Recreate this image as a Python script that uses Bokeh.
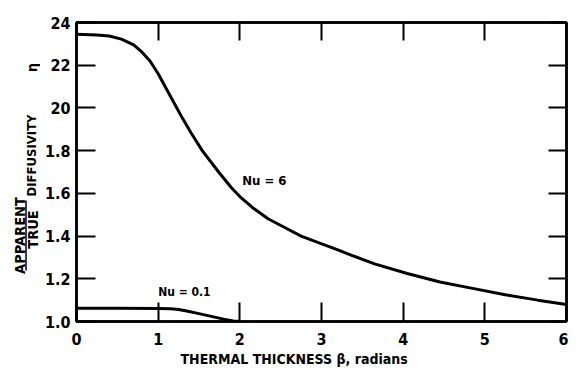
import math
from bokeh.plotting import figure
from bokeh.models import (Range1d, FixedTicker, LinearAxis, Label, Title,
                          CustomJSTickFormatter)
from bokeh.layouts import row
from bokeh.embed import file_html
from bokeh.resources import INLINE

# ---- data ----
nu6_x = [0.0, 0.25, 0.4, 0.55, 0.7, 0.8, 0.9, 1.0, 1.1, 1.2, 1.3, 1.4, 1.54, 1.74, 1.9,
         2.0, 2.15, 2.35, 2.55, 2.75, 2.97, 3.2, 3.37, 3.65, 4.05, 4.45, 4.85, 5.25,
         5.65, 6.0]
nu6_y = [2.345, 2.342, 2.337, 2.322, 2.295, 2.262, 2.22, 2.16, 2.09, 2.02, 1.95, 1.885,
         1.80, 1.70, 1.625, 1.585, 1.535, 1.48, 1.44, 1.40, 1.368, 1.335, 1.31, 1.27,
         1.225, 1.185, 1.155, 1.125, 1.10, 1.08]
nu01_x = [0.0, 0.5, 1.0, 1.15, 1.25, 1.35, 1.5, 1.65, 1.8, 1.92, 2.0]
nu01_y = [1.062, 1.062, 1.061, 1.060, 1.056, 1.049, 1.037, 1.024, 1.011, 1.002, 1.0]

x_ticks = [0, 1, 2, 3, 4, 5, 6]
y_ticks = [1.0, 1.2, 1.4, 1.6, 1.8, 2.0, 2.2, 2.4]
y_tick_labels = ["1.0", "1.2", "1.4", "1.6", "1.8", "20", "22", "24"]

curve_labels = ["Nu = 6", "Nu = 0.1"]
x_title = "THERMAL THICKNESS β, radians"
y_title_parts = ["APPARENT", "TRUE", "DIFFUSIVITY", "η"]

FONT = "DejaVu Sans Condensed"
H = 372
TOP, BOTTOM = 22, 51

# ---- main chart ----
p = figure(width=528, height=H, output_backend="svg", toolbar_location=None,
           x_range=Range1d(0, 6), y_range=Range1d(1.0, 2.4),
           min_border_left=36, min_border_right=2, min_border_top=TOP,
           min_border_bottom=BOTTOM)
p.grid.visible = False
p.outline_line_color = "black"
p.outline_line_width = 2.5
p.background_fill_color = "white"
p.border_fill_color = "white"

xa = p.xaxis[0]
xa.ticker = FixedTicker(ticks=x_ticks)
ya = p.yaxis[0]
ya.ticker = FixedTicker(ticks=y_ticks)
ya.major_label_overrides = {t: l for t, l in zip(y_ticks, y_tick_labels)}

for ax in (xa, ya):
    ax.major_tick_in = 19
    ax.major_tick_out = 0
    ax.minor_tick_line_color = None
    ax.major_tick_line_width = 2
    ax.major_tick_line_color = "black"
    ax.axis_line_width = 2.5
    ax.axis_line_color = "black"
    ax.major_label_text_font = FONT
    ax.major_label_text_font_style = "bold"
    ax.major_label_text_font_size = "16px"
    ax.major_label_text_color = "black"

xa.major_label_standoff = 11
ya.major_label_standoff = 6

for loc, tk in (("above", x_ticks), ("right", y_ticks)):
    ax = LinearAxis(ticker=FixedTicker(ticks=tk),
                    formatter=CustomJSTickFormatter(code="return ''"))
    ax.major_tick_in = 18
    ax.major_tick_out = 0
    ax.minor_tick_line_color = None
    ax.major_tick_line_width = 2
    ax.major_tick_line_color = "black"
    ax.axis_line_width = 2.5
    ax.major_label_standoff = 0
    p.add_layout(ax, loc)

p.add_layout(Title(text=x_title, align="left", offset=104, standoff=2,
                   text_font=FONT, text_font_style="bold", text_font_size="14px",
                   text_color="black"), "below")

p.line(nu6_x, nu6_y, line_color="black", line_width=3)
p.line(nu01_x, nu01_y, line_color="black", line_width=3)

lab_kw = dict(text_font=FONT, text_font_style="bold", text_font_size="13px",
              text_color="black", text_baseline="middle")
p.add_layout(Label(x=2.03, y=1.66, text=curve_labels[0], **lab_kw))
lab_kw["text_font_size"] = "12px"
p.add_layout(Label(x=1.0, y=1.136, text=curve_labels[1], **lab_kw))

# ---- narrow panel holding the rotated y-axis title (fraction) ----
# its frame shares the main frame's vertical extent; data y = pixel row of the picture
t = figure(width=40, height=H, output_backend="svg", toolbar_location=None,
           x_range=Range1d(0, 40), y_range=Range1d(H - BOTTOM, TOP),
           min_border_left=0, min_border_right=0, min_border_top=TOP,
           min_border_bottom=BOTTOM)
t.axis.visible = False
t.grid.visible = False
t.outline_line_color = None
t.background_fill_color = "white"
t.border_fill_color = "white"

rot = dict(angle=math.pi / 2, text_align="center", text_font=FONT, text_font_style="bold",
           text_color="black", text_baseline="middle")
t.add_layout(Label(x=19, y=235, text=y_title_parts[0], text_font_size="14.5px", **rot))
t.add_layout(Label(x=32, y=229, text=y_title_parts[1], text_font_size="14.5px", **rot))
t.add_layout(Label(x=31, y=155, text=y_title_parts[2], text_font_size="13px", **rot))
t.add_layout(Label(x=31, y=67, text=y_title_parts[3], text_font_size="14px", **rot))
t.line([25.5, 25.5], [200, 270], line_color="black", line_width=1.5)

layout = row(t, p)
open("out.html", "w").write(file_html(layout, INLINE))
